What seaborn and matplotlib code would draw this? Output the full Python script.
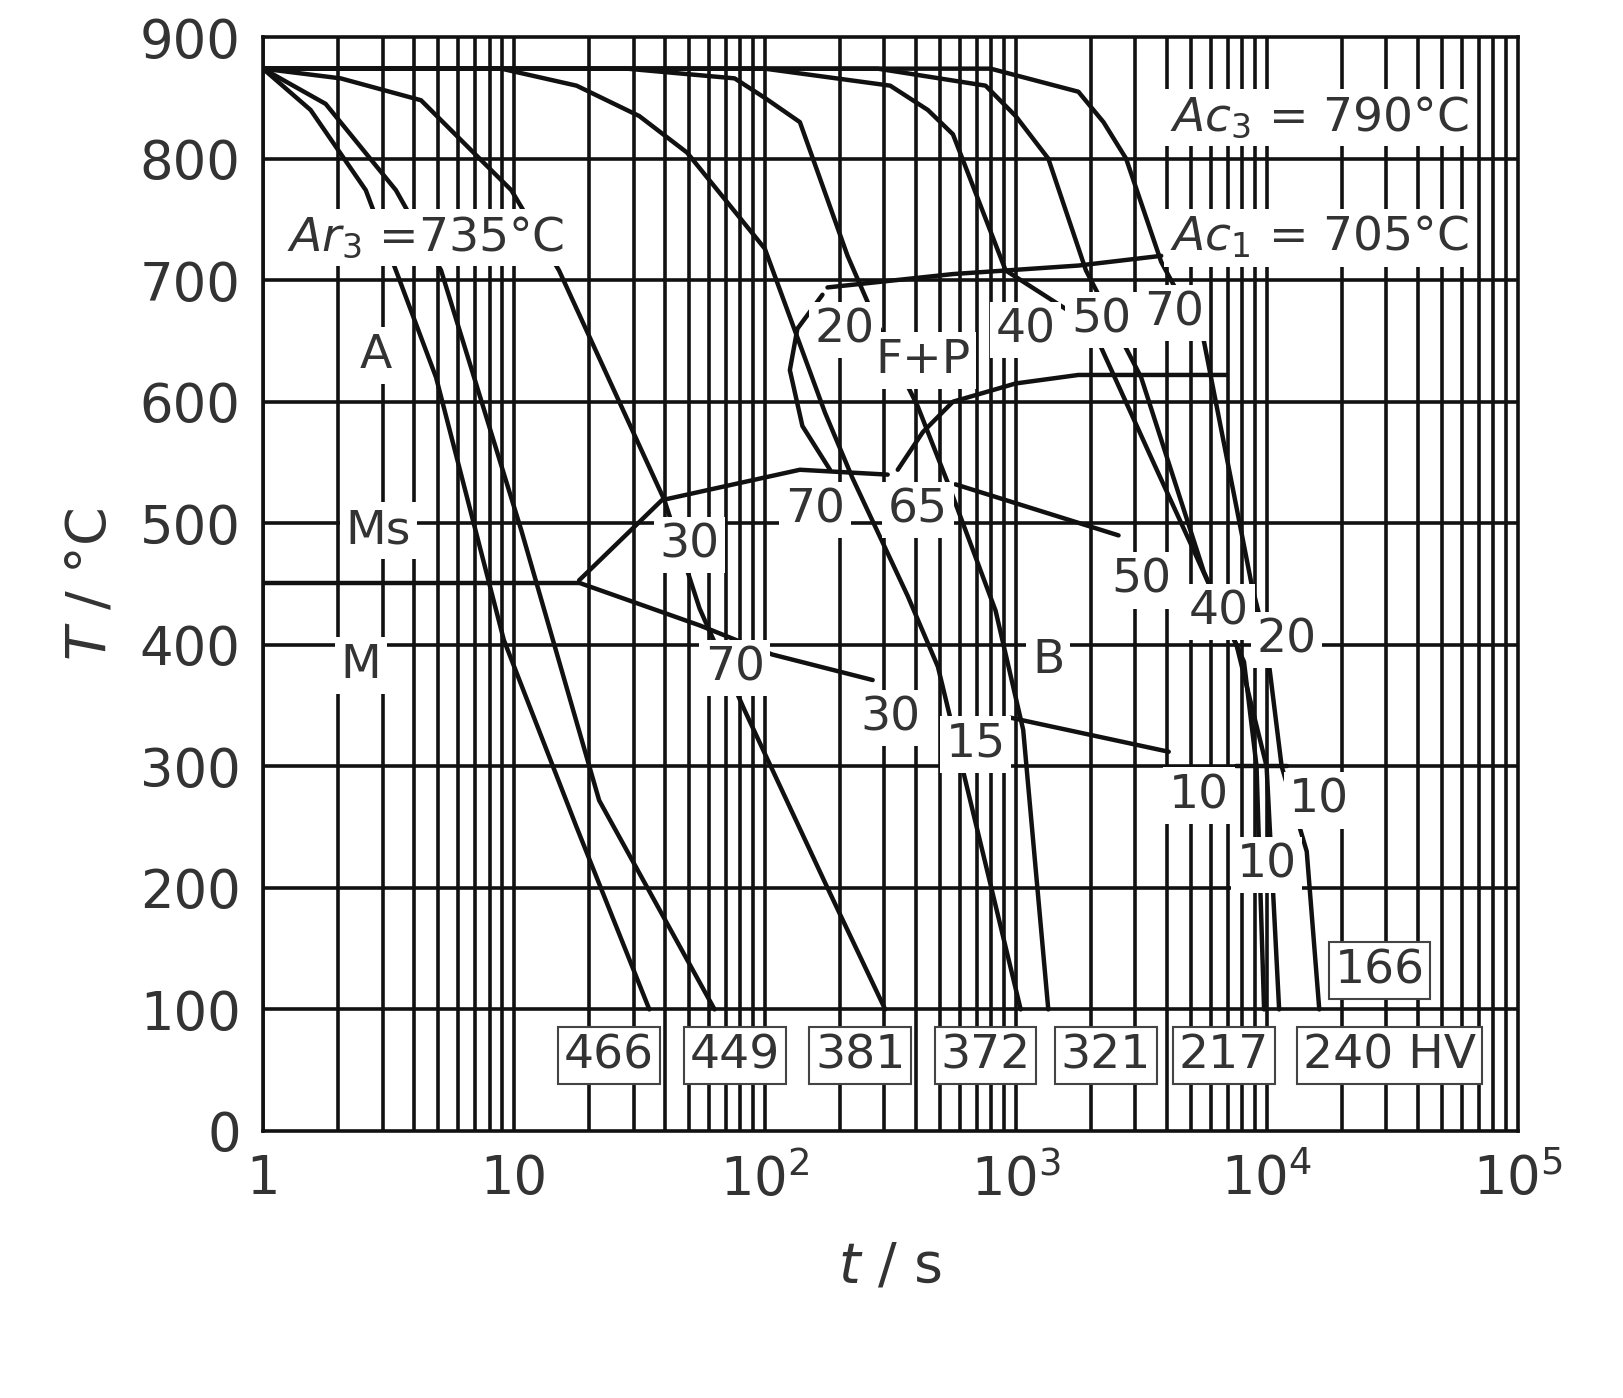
import numpy as np
import pandas as pd
import matplotlib
matplotlib.use("Agg")
import matplotlib.pyplot as plt
import seaborn as sns

sns.set_style("white")
plt.rcParams['font.family'] = ['DejaVu Sans']

# cooling curves: log10(t/s) and T/°C
curve_logt = {
    "c1": [0, 0.19, 0.41, 0.69, 0.96, 1.25, 1.54],
    "c2": [0, 0.25, 0.53, 0.71, 1.03, 1.34, 1.8],
    "c3": [0, 0.31, 0.63, 0.99, 1.18, 1.6, 1.74, 1.92, 2.25, 2.48],
    "c4": [0, 0.95, 1.25, 1.5, 1.69, 2.0, 2.24, 2.35, 2.57, 2.69, 3.02],
    "c5": [0, 1.45, 1.88, 2.0, 2.14, 2.33, 2.45, 2.61, 2.73, 2.92, 3.03, 3.13],
    "c6": [0, 2.0, 2.5, 2.65, 2.75, 2.96, 3.3, 3.56, 3.7, 3.91, 3.96, 3.99],
    "c7": [0, 2.45, 2.88, 3.0, 3.13, 3.28, 3.5, 3.75, 3.88, 4.0, 4.05],
    "c8": [0, 2.9, 3.25, 3.35, 3.44, 3.58, 3.75, 3.94, 4.0, 4.06, 4.16, 4.21],
}
curve_T = {
    "c1": [874, 840, 774, 620, 404, 250, 100],
    "c2": [874, 845, 774, 708, 494, 272, 100],
    "c3": [874, 866, 848, 774, 708, 519, 430, 346, 200, 100],
    "c4": [874, 874, 860, 835, 805, 726, 591, 537, 440, 382, 100],
    "c5": [874, 874, 866, 850, 830, 720, 663, 596, 533, 428, 330, 100],
    "c6": [874, 874, 860, 840, 820, 708, 663, 545, 482, 386, 300, 100],
    "c7": [874, 874, 860, 835, 800, 708, 620, 460, 400, 300, 100],
    "c8": [874, 874, 855, 830, 800, 715, 650, 450, 400, 300, 230, 100],
}

# transformation boundaries
bound_logt = {
    "ferrite_start": [2.25, 2.75, 3.25, 3.58],
    "ferrite_nose": [2.23, 2.13, 2.1, 2.15, 2.26],
    "pearlite_end": [2.53, 2.63, 2.75, 3.0, 3.25, 3.84],
    "bainite_start": [1.26, 1.59, 2.14, 2.49],
    "ms_line": [0, 1.26],
    "bainite_end": [1.26, 1.74, 2.03, 2.43],
    "bainite_end2": [2.98, 3.61],
    "fp_b": [2.76, 3.41],
    "b_end300": [3.88, 4.08],
}
bound_T = {
    "ferrite_start": [694, 705, 712, 720],
    "ferrite_nose": [688, 660, 626, 580, 544],
    "pearlite_end": [544, 575, 600, 615, 622, 622],
    "bainite_start": [453, 519, 544, 540],
    "ms_line": [451, 451],
    "bainite_end": [451, 416, 392, 371],
    "bainite_end2": [340, 312],
    "fp_b": [532, 490],
    "b_end300": [300, 300],
}

# phase percentages (text, log t, T)
pct_text = ["20", "40", "50", "70", "30", "70", "65", "50", "40", "20",
            "70", "30", "15", "10", "10", "10"]
pct_logt = [2.32, 3.04, 3.34, 3.63, 1.7, 2.2, 2.61, 3.5, 3.81, 4.08,
            1.88, 2.5, 2.84, 3.73, 4.21, 4.0]
pct_T = [659, 659, 667, 673, 482, 511, 511, 453, 427, 404,
         381, 340, 318, 276, 272, 219]

phase_text = ["A", "Ms", "M", "B", "F+P"]
phase_logt = [0.45, 0.46, 0.39, 3.13, 2.63]
phase_T = [638, 494, 383, 387, 634]

hv_text = ["466", "449", "381", "372", "321", "217", "240 HV", "166"]
hv_logt = [1.38, 1.88, 2.38, 2.88, 3.36, 3.83, 4.49, 4.45]
hv_T = [62, 62, 62, 62, 62, 62, 62, 132]

fig = plt.figure(figsize=(16.23, 13.98), dpi=100)
ax = fig.add_axes([0.162, 0.191, 0.773, 0.7825])
ink = "#111111"

for name in curve_logt:
    df = pd.DataFrame({"t": 10 ** np.array(curve_logt[name]), "T": curve_T[name]})
    sns.lineplot(data=df, x="t", y="T", ax=ax, sort=False, color=ink, lw=3.2, zorder=3)
for name in bound_logt:
    df = pd.DataFrame({"t": 10 ** np.array(bound_logt[name]), "T": bound_T[name]})
    sns.lineplot(data=df, x="t", y="T", ax=ax, sort=False, color=ink, lw=3.2, zorder=3)

ax.set_xscale("log")
ax.set_xlim(1, 1e5)
ax.set_ylim(0, 900)

# grid
for dec in range(5):
    for m in range(1, 10):
        ax.axvline(m * 10 ** dec, color=ink, lw=2.6, zorder=1)
for T in range(100, 900, 100):
    ax.axhline(T, color=ink, lw=2.6, zorder=1)

box = dict(facecolor="white", edgecolor="none", boxstyle="square,pad=0.12")
txtc = "#333333"
for s, lt, T in zip(pct_text, pct_logt, pct_T):
    ax.text(10 ** lt, T, s, fontsize=34, ha="center", va="center", color=txtc,
            bbox=box, zorder=6)
for s, lt, T in zip(phase_text, phase_logt, phase_T):
    ax.text(10 ** lt, T, s, fontsize=34, ha="center", va="center", color=txtc,
            bbox=box, zorder=6)
hvbox = dict(facecolor="white", edgecolor="#444444", lw=1.5, boxstyle="square,pad=0.12")
for s, lt, T in zip(hv_text, hv_logt, hv_T):
    ax.text(10 ** lt, T, s, fontsize=34, ha="center", va="center", color=txtc,
            bbox=hvbox, zorder=7)

ax.text(10 ** 4.21, 834, r"$\mathit{Ac}_3$ = 790°C", fontsize=34, ha="center",
        va="center", color=txtc, bbox=box, zorder=6)
ax.text(10 ** 4.21, 735, r"$\mathit{Ac}_1$ = 705°C", fontsize=34, ha="center",
        va="center", color=txtc, bbox=box, zorder=6)
ax.text(10 ** 0.65, 735, r"$\mathit{Ar}_3$ =735°C", fontsize=34, ha="center",
        va="center", color=txtc, bbox=box, zorder=6)

ax.set_xticks([1, 10, 100, 1000, 1e4, 1e5])
ax.set_xticklabels(["1", "10", r"10$^2$", r"10$^3$", r"10$^4$", r"10$^5$"])
ax.xaxis.set_minor_locator(matplotlib.ticker.NullLocator())
ax.set_yticks(range(0, 901, 100))
ax.tick_params(labelsize=38, colors=txtc, length=0, pad=16)
ax.set_xlabel(r"$t$ / s", fontsize=40, color=txtc, labelpad=24)
ax.set_ylabel(r"$T$ / °C", fontsize=40, color=txtc, labelpad=16)
for sp in ax.spines.values():
    sp.set_color(ink)
    sp.set_linewidth(2.6)

fig.savefig("out.png", dpi=100)
